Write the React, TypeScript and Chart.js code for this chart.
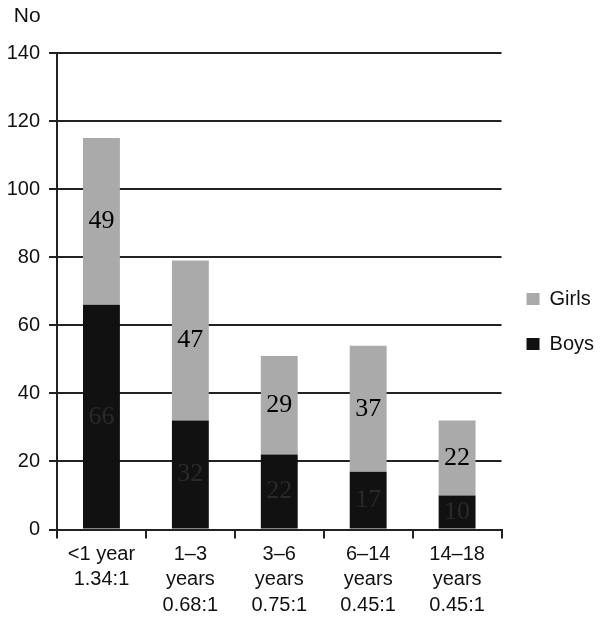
import React, { useEffect, useRef } from "react";
import { Chart, registerables } from "chart.js";

Chart.register(...registerables);

const categories: string[][] = [
  ["<1 year", "1.34:1"],
  ["1–3", "years", "0.68:1"],
  ["3–6", "years", "0.75:1"],
  ["6–14", "years", "0.45:1"],
  ["14–18", "years", "0.45:1"],
];
const boys: number[] = [66, 32, 22, 17, 10];
const girls: number[] = [49, 47, 29, 37, 22];
const yTicks: number[] = [0, 20, 40, 60, 80, 100, 120, 140];

const labelColors = ["#2a2a2a", "#000000"];
const SANS = "'Liberation Sans', Arial, Helvetica, sans-serif";

const valueLabels = {
  id: "valueLabels",
  afterDatasetsDraw(chart: any) {
    const ctx = chart.ctx;
    ctx.save();
    ctx.font = "26px 'Liberation Serif', 'Times New Roman', serif";
    ctx.textAlign = "center";
    ctx.textBaseline = "middle";
    chart.data.datasets.forEach((ds: any, di: number) => {
      const meta = chart.getDatasetMeta(di);
      meta.data.forEach((el: any, i: number) => {
        const v = ds.data[i];
        const y = (el.y + el.base) / 2;
        ctx.fillStyle = labelColors[di];
        ctx.fillText(String(v), el.x, y);
      });
    });
    ctx.restore();
  },
};

export default function App() {
  const ref = useRef<HTMLCanvasElement | null>(null);
  useEffect(() => {
    if (!ref.current) return;
    const chart = new Chart(ref.current, {
      type: "bar",
      data: {
        labels: categories,
        datasets: [
          {
            label: "Boys",
            data: boys,
            backgroundColor: "#111111",
            barPercentage: 0.83,
            categoryPercentage: 0.5,
          },
          {
            label: "Girls",
            data: girls,
            backgroundColor: "#aaaaaa",
            barPercentage: 0.83,
            categoryPercentage: 0.5,
          },
        ],
      },
      options: {
        animation: false,
        responsive: true,
        maintainAspectRatio: false,
        layout: { padding: { left: 0, right: -10, top: 0, bottom: -9 } },
        plugins: {
          title: {
            display: true,
            text: " No",
            align: "start",
            color: "#111",
            font: { family: SANS, size: 21, weight: "normal", lineHeight: 1 },
            padding: { top: -2, bottom: 26 },
          },
          legend: {
            position: "right",
            reverse: true,
            title: {
              display: true,
              text: " ",
              padding: 0,
              font: { family: SANS, size: 14, lineHeight: 1 },
            },
            labels: {
              color: "#111",
              boxWidth: 13,
              boxHeight: 12,
              padding: 25,
              font: { family: SANS, size: 20 },
            },
          },
          tooltip: { enabled: false },
        },
        scales: {
          x: {
            stacked: true,
            grid: {
              drawOnChartArea: false,
              tickLength: 9,
              color: "#222",
              lineWidth: 2,
            },
            border: { color: "#222", width: 2 },
            ticks: {
              color: "#111",
              maxRotation: 0,
              autoSkip: false,
              padding: 3,
              font: { family: SANS, size: 20, lineHeight: 1.275 },
            },
          },
          y: {
            stacked: true,
            min: 0,
            max: 140,
            afterBuildTicks: (axis: any) => {
              axis.ticks = yTicks.map((v) => ({ value: v }));
            },
            afterFit: (axis: any) => {
              axis.width = 49;
            },
            grid: { color: "#222", lineWidth: 2, tickLength: 8 },
            border: { color: "#222", width: 2 },
            ticks: {
              color: "#111",
              padding: 9,
              font: { family: SANS, size: 20 },
            },
          },
        },
      },
      plugins: [valueLabels],
    });
    return () => chart.destroy();
  }, []);
  return (
    <div style={{ width: 586, height: 604, position: "relative" }}>
      <canvas ref={ref} />
    </div>
  );
}
